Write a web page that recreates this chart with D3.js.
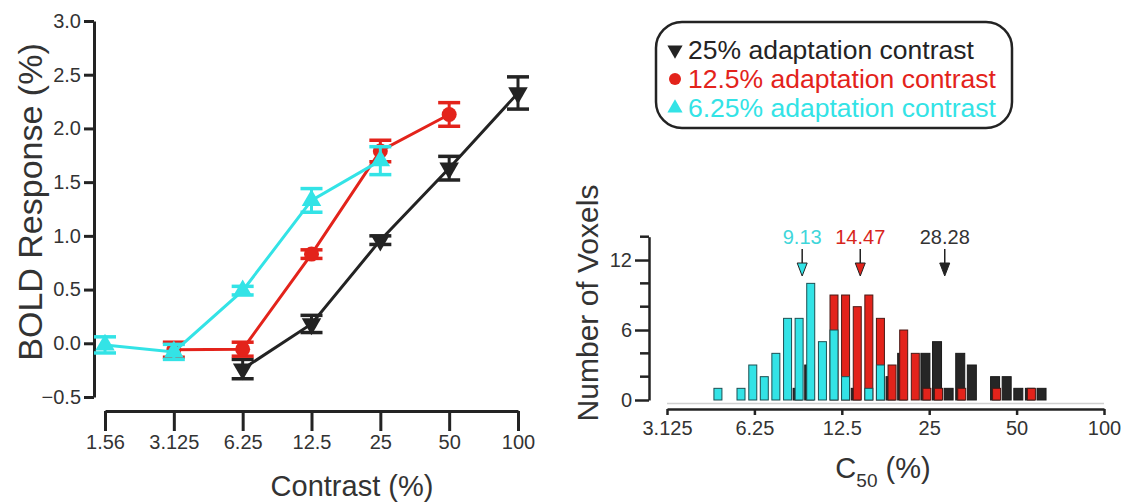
<!DOCTYPE html>
<html>
<head>
<meta charset="utf-8">
<script src="https://cdn.jsdelivr.net/npm/d3@7"></script>
<style>
  html, body { margin: 0; padding: 0; background: #fff; }
  svg { display: block; font-family: "Liberation Sans", Arial, sans-serif; }
</style>
</head>
<body>
<svg id="chart" width="1136" height="502"></svg>
<script>
// ---- Contrast response functions (left panel) ----
const contrastTicks = [1.5625, 3.125, 6.25, 12.5, 25, 50, 100];
const contrastTickLabels = ["1.56", "3.125", "6.25", "12.5", "25", "50", "100"];

const adapt25Contrast = [6.25, 12.5, 25, 50, 100];
const adapt25Mean     = [-0.24, 0.18, 0.96, 1.63, 2.33];
const adapt25Err      = [0.09, 0.08, 0.04, 0.11, 0.15];

const adapt12Contrast = [3.125, 6.25, 12.5, 25, 50];
const adapt12Mean     = [-0.06, -0.055, 0.83, 1.79, 2.13];
const adapt12Err      = [0.07, 0.065, 0.04, 0.10, 0.11];

const adapt6Contrast  = [1.5625, 3.125, 6.25, 12.5, 25];
const adapt6Mean      = [-0.015, -0.08, 0.49, 1.33, 1.70];
const adapt6Err       = [0.075, 0.07, 0.04, 0.11, 0.13];

const boldTicks = [-0.5, 0.0, 0.5, 1.0, 1.5, 2.0, 2.5, 3.0];

// ---- C50 histogram (right panel) ----
const c50BinCenters = [4.68, 5.13, 5.62, 6.17, 6.76, 7.41, 8.13, 8.91, 9.77, 10.72,
                       11.75, 12.88, 14.13, 15.49, 16.98, 18.62, 20.42, 22.39, 24.55, 26.92,
                       29.51, 32.36, 35.48, 38.90, 42.66, 46.77, 51.29, 56.23, 61.66];
const voxels25 = [0, 0, 0, 0, 0, 0, 0, 1, 3, 0, 0, 0, 1, 0, 0, 2, 4, 0, 4, 5, 1, 4, 3, 0, 2, 2, 1, 1, 1];
const voxels12 = [0, 0, 0, 0, 0, 0, 0, 0, 0, 0, 9, 9, 8, 9, 7, 3, 6, 4, 1, 1, 0, 1, 0, 0, 1, 0, 0, 1, 0];
const voxels6  = [1, 0, 1, 3, 2, 4, 7, 7, 10, 5, 6, 2, 0, 1, 3, 0, 0, 0, 0, 0, 0, 0, 0, 0, 0, 0, 0, 0, 0];
const c50Ticks = [3.125, 6.25, 12.5, 25, 50, 100];
const c50TickLabels = ["3.125", "6.25", "12.5", "25", "50", "100"];
const voxelTicksMajor = [0, 6, 12];
const voxelTicksMinor = [2, 4, 8, 10, 14];
const medianC50 = [9.13, 14.47, 28.28];
const medianLabels = ["9.13", "14.47", "28.28"];

const legendLabels = ["25% adaptation contrast", "12.5% adaptation contrast", "6.25% adaptation contrast"];

const BLACK = "#232323", RED = "#e3231b", CYAN = "#33e3e6";
const TEXT = "#333";

const svg = d3.select("#chart");

// ================= Left panel =================
const xL = d3.scaleLog().base(2).domain([1.5625, 100]).range([105, 518]);
const yL = d3.scaleLinear().domain([-0.5, 3.0]).range([397, 21]);

const yAxisL = d3.axisLeft(yL).tickValues(boldTicks).tickFormat(d3.format(".1f"))
  .tickSize(10).tickSizeOuter(0).tickPadding(3);
const gyl = svg.append("g").attr("transform", "translate(94,0)").call(yAxisL);
gyl.select(".domain").attr("stroke", BLACK).attr("stroke-width", 3);
gyl.selectAll(".tick line").attr("stroke", BLACK).attr("stroke-width", 3);
gyl.selectAll(".tick text").attr("fill", TEXT).style("font-size", "20px")
  .text(d => d < 0 ? "\u2212" + d3.format(".1f")(-d) : d3.format(".1f")(d));

const xAxisL = d3.axisBottom(xL).tickValues(contrastTicks)
  .tickFormat((d, i) => contrastTickLabels[i]).tickSize(20).tickSizeOuter(0).tickPadding(4);
const gxl = svg.append("g").attr("transform", "translate(0,411)").call(xAxisL);
gxl.select(".domain").attr("stroke", BLACK).attr("stroke-width", 3);
gxl.selectAll(".tick line").attr("stroke", BLACK).attr("stroke-width", 3);
gxl.selectAll(".tick text").attr("fill", TEXT).style("font-size", "20px");

svg.append("text").attr("x", 352).attr("y", 496).attr("text-anchor", "middle")
  .attr("fill", TEXT).style("font-size", "29px").text("Contrast (%)");
svg.append("text").attr("transform", "translate(42,202) rotate(-90)")
  .attr("text-anchor", "middle").attr("fill", TEXT).style("font-size", "34px")
  .text("BOLD Response (%)");

const triUp = d3.symbol().type(d3.symbolTriangle).size(165);
const lineGen = d3.line().x(d => xL(d.c)).y(d => yL(d.m));

function drawSeries(cs, ms, es, color, marker) {
  const pts = cs.map((c, i) => ({ c, m: ms[i], e: es[i] }));
  const g = svg.append("g");
  g.append("path").datum(pts).attr("d", lineGen).attr("fill", "none")
    .attr("stroke", color).attr("stroke-width", 3);
  const eb = g.selectAll(".eb").data(pts).join("g");
  eb.append("line").attr("x1", d => xL(d.c)).attr("x2", d => xL(d.c))
    .attr("y1", d => yL(d.m + d.e)).attr("y2", d => yL(d.m - d.e))
    .attr("stroke", color).attr("stroke-width", 3);
  [1, -1].forEach(s => {
    eb.append("line").attr("x1", d => xL(d.c) - 11).attr("x2", d => xL(d.c) + 11)
      .attr("y1", d => yL(d.m + s * d.e)).attr("y2", d => yL(d.m + s * d.e))
      .attr("stroke", color).attr("stroke-width", 3.5);
  });
  if (marker === "circle") {
    eb.append("circle").attr("cx", d => xL(d.c)).attr("cy", d => yL(d.m)).attr("r", 7.5).attr("fill", color);
  } else {
    const rot = marker === "down" ? 180 : 0;
    eb.append("path").attr("d", triUp)
      .attr("transform", d => `translate(${xL(d.c)},${yL(d.m)}) rotate(${rot})`).attr("fill", color);
  }
}
drawSeries(adapt25Contrast, adapt25Mean, adapt25Err, BLACK, "down");
drawSeries(adapt12Contrast, adapt12Mean, adapt12Err, RED, "circle");
drawSeries(adapt6Contrast, adapt6Mean, adapt6Err, CYAN, "up");

// ================= Legend =================
const lg = svg.append("g");
lg.append("rect").attr("x", 656).attr("y", 22).attr("width", 356).attr("height", 106)
  .attr("rx", 26).attr("ry", 26).attr("fill", "#fff").attr("stroke", BLACK).attr("stroke-width", 2.5);
const legendColors = [BLACK, RED, CYAN];
const legendMarkers = ["down", "circle", "up"];
legendLabels.forEach((t, i) => {
  const cy = 50 + i * 29;
  if (legendMarkers[i] === "circle") {
    lg.append("circle").attr("cx", 675).attr("cy", cy).attr("r", 6).attr("fill", legendColors[i]);
  } else {
    lg.append("path").attr("d", d3.symbol().type(d3.symbolTriangle).size(100))
      .attr("transform", `translate(675,${cy}) rotate(${legendMarkers[i] === "down" ? 180 : 0})`)
      .attr("fill", legendColors[i]);
  }
  lg.append("text").attr("x", 688).attr("y", cy + 9).attr("fill", legendColors[i])
    .style("font-size", "26.5px").text(t);
});

// ================= Right panel =================
const xR = d3.scaleLog().base(2).domain([3.125, 100]).range([667, 1104]);
const yR = d3.scaleLinear().domain([0, 14]).range([400, 236.7]);

// baseline under the bars
svg.append("line").attr("x1", xR(3.125)).attr("x2", xR(100)).attr("y1", 403.5).attr("y2", 403.5)
  .attr("stroke", "#d0d0d0").attr("stroke-width", 1.5);

const yAxisR = d3.axisLeft(yR).tickValues(voxelTicksMajor).tickSize(14).tickSizeOuter(0).tickPadding(3);
const gyr = svg.append("g").attr("transform", "translate(649,0)").call(yAxisR);
gyr.select(".domain").attr("stroke", BLACK).attr("stroke-width", 2.5);
gyr.selectAll(".tick line").attr("stroke", BLACK).attr("stroke-width", 2.5);
gyr.selectAll(".tick text").attr("fill", TEXT).style("font-size", "20px");
gyr.selectAll(".minor").data(voxelTicksMinor).join("line")
  .attr("x1", -9).attr("x2", 0).attr("y1", d => yR(d)).attr("y2", d => yR(d))
  .attr("stroke", BLACK).attr("stroke-width", 2.5);

const xAxisR = d3.axisBottom(xR).tickValues(c50Ticks)
  .tickFormat((d, i) => c50TickLabels[i]).tickSize(6).tickSizeOuter(0).tickPadding(6);
const gxr = svg.append("g").attr("transform", "translate(0,409)").call(xAxisR);
gxr.select(".domain").attr("stroke", BLACK).attr("stroke-width", 2.5);
gxr.selectAll(".tick line").attr("stroke", BLACK).attr("stroke-width", 2.5);
gxr.selectAll(".tick text").attr("fill", TEXT).style("font-size", "20px");

const c50Title = svg.append("text").attr("x", 883).attr("y", 478).attr("text-anchor", "middle")
  .attr("fill", TEXT).style("font-size", "29px");
c50Title.append("tspan").text("C");
c50Title.append("tspan").attr("dy", 9).style("font-size", "19px").text("50");
c50Title.append("tspan").attr("dy", -9).text(" (%)");

svg.append("text").attr("transform", "translate(598,303) rotate(-90)")
  .attr("text-anchor", "middle").attr("fill", TEXT).style("font-size", "30px")
  .text("Number of Voxels");

const hist = c50BinCenters.map((c, i) => ({ c, b: voxels25[i], r: voxels12[i], y: voxels6[i] }));
const bw = 8;
const hg = svg.append("g");
hg.selectAll(".hb").data(hist.filter(d => d.b > 0)).join("rect")
  .attr("x", d => xR(d.c) - bw / 2 - 2).attr("width", bw + 1)
  .attr("y", d => yR(d.b)).attr("height", d => yR(0) - yR(d.b))
  .attr("fill", "#262626").attr("stroke", "#1a1a1a").attr("stroke-width", 1);
hg.selectAll(".hr").data(hist.filter(d => d.r > 0)).join("rect")
  .attr("x", d => xR(d.c) - bw / 2).attr("width", bw)
  .attr("y", d => yR(d.r)).attr("height", d => yR(0) - yR(d.r))
  .attr("fill", RED).attr("stroke", "#4a1a16").attr("stroke-width", 1);
hg.selectAll(".hc").data(hist.filter(d => d.y > 0)).join("rect")
  .attr("x", d => xR(d.c) - bw / 2).attr("width", bw)
  .attr("y", d => yR(d.y)).attr("height", d => yR(0) - yR(d.y))
  .attr("fill", CYAN).attr("stroke", "#1d4f52").attr("stroke-width", 1);

// median markers
const medColors = [CYAN, RED, BLACK];
const medText = ["#3fd6da", "#d7251d", "#333"];
medianC50.forEach((m, i) => {
  const x = xR(m);
  svg.append("text").attr("x", x).attr("y", 244).attr("text-anchor", "middle")
    .attr("fill", medText[i]).style("font-size", "20px").text(medianLabels[i]);
  svg.append("line").attr("x1", x).attr("x2", x).attr("y1", 249).attr("y2", 264)
    .attr("stroke", "#222").attr("stroke-width", 1.5);
  svg.append("path").attr("d", `M${x - 5},${263} L${x + 5},${263} L${x},${276} Z`)
    .attr("fill", medColors[i]).attr("stroke", "#222").attr("stroke-width", 1);
});
</script>
</body>
</html>
